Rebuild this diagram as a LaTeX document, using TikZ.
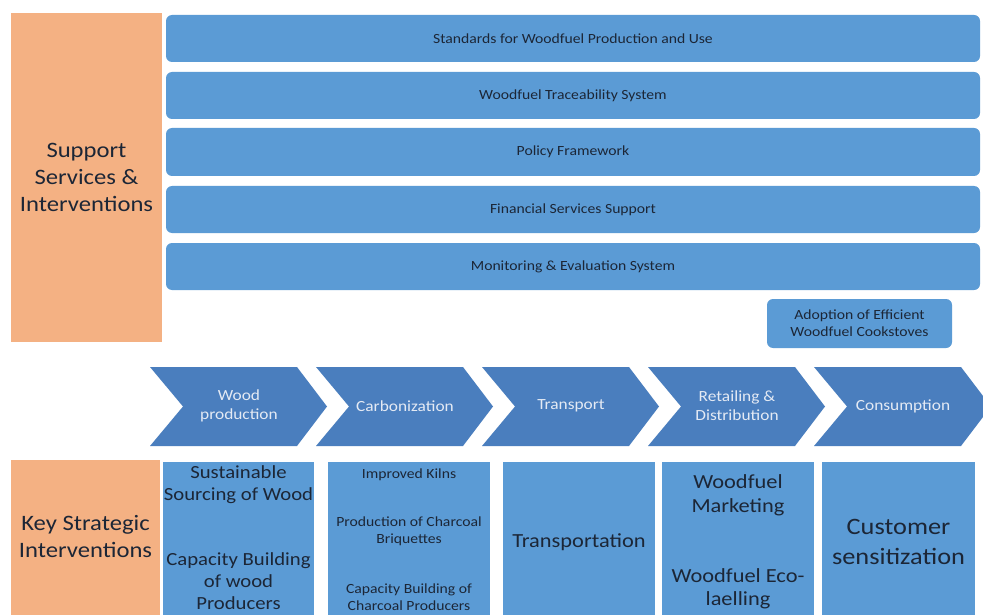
\documentclass[tikz,border=0pt]{standalone}
\usepackage{fontspec}
\setmainfont{Carlito}[FakeStretch=1.12]
\definecolor{barblue}{HTML}{5B9BD5}
\definecolor{chevblue}{HTML}{4A7EBE}
\definecolor{peach}{HTML}{F4B183}
\definecolor{ink}{HTML}{1C2636}
\definecolor{chevtext}{HTML}{E4EAF4}
\begin{document}
\begin{tikzpicture}[x=1pt,y=-1pt,
  bar/.style={fill=barblue,rounded corners=6pt},
  bartext/.style={text=ink,font=\fontsize{14}{17}\selectfont,align=center},
  sidebox/.style={fill=peach},
  sidetext/.style={text=ink,font=\fontsize{22}{27}\selectfont,align=center},
  keybox/.style={fill=barblue},
  chevlabel/.style={text=chevtext,font=\fontsize{15.5}{19}\selectfont,align=center}]
\clip (0,0) rectangle (983,615);
\fill[white] (0,0) rectangle (983,615);

% left headings
\fill[sidebox] (11,13) rectangle (162,342);
\node[sidetext] (support) at (86.5,177) {Support\\Services \&\\Interventions};
\fill[sidebox] (11,460) rectangle (160,620);
\node[sidetext] (key) at (85.5,537) {Key Strategic\\Interventions};

% support service bars
\fill[bar] (166,15) rectangle (980,62);
\node[bartext] (s1) at (573,38.5) {Standards for Woodfuel Production and Use};
\fill[bar] (166,72) rectangle (980,119);
\node[bartext] (s2) at (573,95.5) {Woodfuel Traceability System};
\fill[bar] (166,128) rectangle (980,176);
\node[bartext] (s3) at (573,152) {Policy Framework};
\fill[bar] (166,186) rectangle (980,233);
\node[bartext] (s4) at (573,209.5) {Financial Services Support};
\fill[bar] (166,243) rectangle (980,290);
\node[bartext] (s5) at (573,266.5) {Monitoring \& Evaluation System};
\fill[bar] (767,299) rectangle (952,348);
\node[bartext] (cook) at (859.5,323.5) {Adoption of Efficient\\Woodfuel Cookstoves};

% value chain chevrons
\foreach \x/\name/\txt in {150/c1/{Wood\\production},316/c2/Carbonization,482/c3/Transport,648/c4/{Retailing \&\\Distribution},814/c5/Consumption}{
  \fill[chevblue] (\x,367) -- ++(147,0) -- ++(30,39.5) -- ++(-30,39.5) -- ++(-147,0) -- ++(33,-39.5) -- cycle;
  \node[chevlabel] (\name) at (\x+89,406) {\txt};
}

% key strategic intervention columns
\fill[keybox] (163,462) rectangle (314,620);
\node[text=ink,font=\fontsize{18.5}{22}\selectfont,align=center] (k1a) at (238.5,485) {Sustainable\\Sourcing of Wood};
\node[text=ink,font=\fontsize{18.5}{22}\selectfont,align=center] (k1b) at (238.5,581) {Capacity Building\\of wood\\Producers};

\fill[keybox] (328,462) rectangle (490,620);
\node[text=ink,font=\fontsize{14}{17}\selectfont,align=center] (k2a) at (409,475) {Improved Kilns};
\node[text=ink,font=\fontsize{14}{17}\selectfont,align=center] (k2b) at (409,531) {Production of Charcoal\\Briquettes};
\node[text=ink,font=\fontsize{14}{17}\selectfont,align=center] (k2c) at (409,597) {Capacity Building of\\Charcoal Producers};

\fill[keybox] (503,462) rectangle (655,620);
\node[text=ink,font=\fontsize{20}{24}\selectfont,align=center] (k3) at (579,542) {Transportation};

\fill[keybox] (662,462) rectangle (814,620);
\node[text=ink,font=\fontsize{20}{23.5}\selectfont,align=center] (k4a) at (738,495.5) {Woodfuel\\Marketing};
\node[text=ink,font=\fontsize{20}{23.5}\selectfont,align=center] (k4b) at (738,589) {Woodfuel Eco-\\laelling};

\fill[keybox] (822,462) rectangle (975,620);
\node[text=ink,font=\fontsize{23.5}{30}\selectfont,align=center] (k5) at (898.5,542) {Customer\\sensitization};
\end{tikzpicture}
\end{document}
